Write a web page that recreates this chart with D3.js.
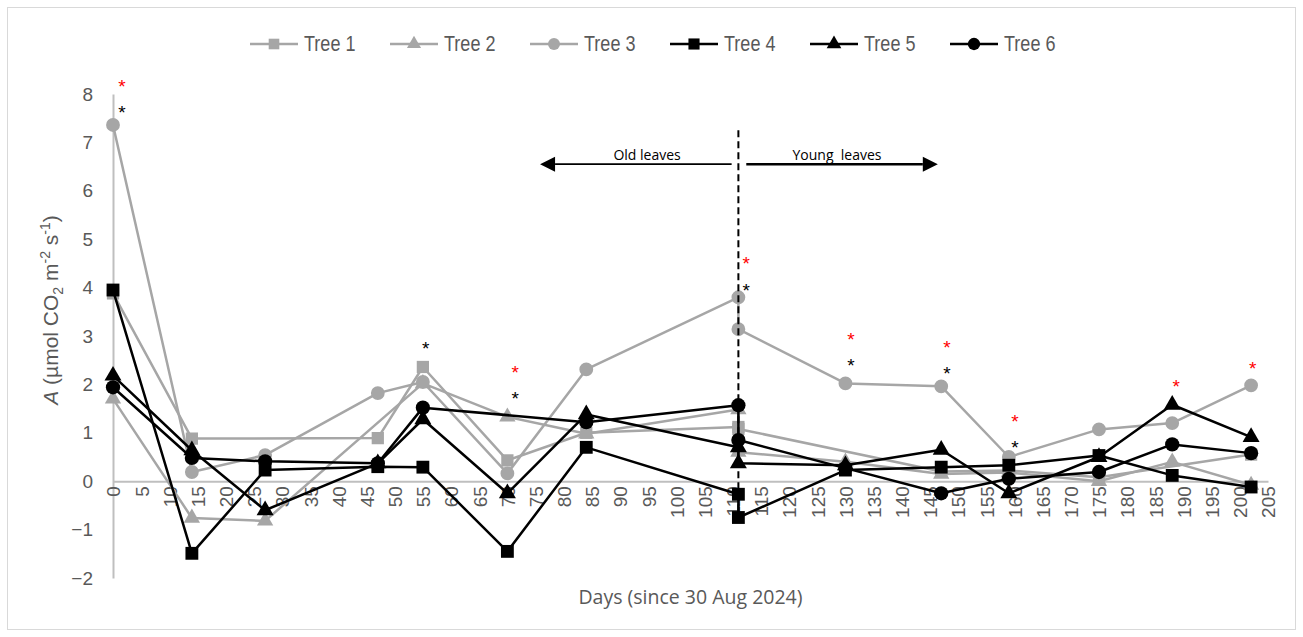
<!DOCTYPE html>
<html><head><meta charset="utf-8">
<script src="https://cdn.jsdelivr.net/npm/d3@7"></script>
<style>
body{margin:0;background:#fff;}
text{font-family:"Liberation Sans",Arial,sans-serif;}
</style>
</head><body>
<svg id="chart" width="1303" height="637"></svg>
<script>
// ---------- DATA ----------
// measurement days (day 111 appears twice: old leaves, then young leaves)
const days  = [0, 14, 27, 47, 55, 70, 84, 111, 111, 130, 147, 159, 175, 188, 202];
const tree1 = [3.88, 0.88, null, 0.89, 2.36, 0.43, 1.00, 1.12, 1.08, null, 0.20, 0.22, 0.08, null, 0.55];
const tree2 = [1.70, -0.76, -0.82, null, 2.02, 1.33, 0.98, 1.48, 0.60, 0.40, 0.15, 0.18, 0.00, 0.40, -0.08];
const tree3 = [7.36, 0.19, 0.54, 1.82, 2.05, 0.16, 2.31, 3.80, 3.14, 2.02, 1.96, 0.50, 1.07, 1.20, 1.98];
const tree4 = [3.95, -1.49, 0.23, 0.30, 0.29, -1.45, 0.70, -0.27, -0.75, 0.23, 0.29, 0.33, 0.53, 0.12, -0.12];
const tree5 = [2.18, 0.64, -0.60, 0.37, 1.28, -0.25, 1.38, 0.70, 0.37, 0.33, 0.65, -0.25, 0.50, 1.58, 0.91];
const tree6 = [1.94, 0.48, 0.41, 0.37, 1.52, null, 1.22, 1.57, 0.85, 0.27, -0.25, 0.05, 0.19, 0.76, 0.58];
const seriesNames = ["Tree 1", "Tree 2", "Tree 3", "Tree 4", "Tree 5", "Tree 6"];
const xTicks = d3.range(0, 206, 5);
const yTicks = d3.range(-2, 9, 1);
// significance asterisks (day, value)
const redStarDays   = [1.6, 71.4, 112.4, 131, 148, 160.1, 188.7, 202.3];
const redStarValues = [8.22, 2.31, 4.57, 3.00, 2.83, 1.30, 2.02, 2.40];
const blackStarDays   = [1.6, 55.5, 71.4, 112.4, 131, 148, 160.1];
const blackStarValues = [7.69, 2.81, 1.78, 4.01, 2.46, 2.29, 0.76];
// leaf phase annotation
const dividerDay = 111;
const dividerRange = [7.25, -0.85];
const oldArrowDays = [109.8, 75.8];
const youngArrowDays = [112.4, 146.4];
const arrowValue = 6.55;
const phaseLabels = ["Old leaves", "Young  leaves"];
const phaseLabelDays = [94.8, 128.5];
const phaseLabelValue = 6.63;

// ---------- LAYOUT ----------
const svg = d3.select("#chart");
const x = d3.scaleLinear().domain([0, 205]).range([113, 1268]);
const y = d3.scaleLinear().domain([-2, 8]).range([578, 94]);
const axisColor = "#bfbfbf", textColor = "#595959", grey = "#a6a6a6";

svg.append("rect").attr("x", 7.5).attr("y", 7.5).attr("width", 1288).attr("height", 622)
  .attr("fill", "#fff").attr("stroke", "#d9d9d9").attr("stroke-width", 1);

// Y axis
const yAxis = svg.append("g").attr("transform", `translate(${x(0)},0)`)
  .call(d3.axisLeft(y).tickValues(yTicks).tickSize(0).tickPadding(20).tickFormat(d3.format("d")));
yAxis.select(".domain").attr("stroke", axisColor).attr("stroke-width", 2);
yAxis.selectAll("text").attr("fill", textColor).style("font-size", "19px")
  .style("font-family", '"Liberation Sans",Arial,sans-serif');

// X axis at y = 0
const xAxis = svg.append("g").attr("transform", `translate(0,${y(0)})`)
  .call(d3.axisBottom(x).tickValues(xTicks).tickSize(0).tickSizeOuter(0));
xAxis.select(".domain").attr("stroke", axisColor).attr("stroke-width", 2);
xAxis.selectAll("text").attr("fill", textColor).style("font-size", "19px")
  .style("font-family", '"Liberation Sans",Arial,sans-serif')
  .attr("y", 0).attr("x", -5).attr("dy", "0.36em")
  .attr("transform", "rotate(-90)").style("text-anchor", "end");

// Axis titles
svg.append("text").attr("x", x(102.5)).attr("y", 604).attr("text-anchor", "middle")
  .attr("fill", textColor).style("font-family", '"Open Sans",sans-serif').style("font-size", "19.5px")
  .text("Days (since 30 Aug 2024)");

const yt = svg.append("text").attr("transform", "translate(58,310) rotate(-90)")
  .attr("text-anchor", "middle").attr("fill", textColor).style("font-size", "21px");
yt.append("tspan").style("font-style", "italic").text("A");
yt.append("tspan").text(" (µmol CO");
yt.append("tspan").attr("dy", 5).style("font-size", "14px").text("2");
yt.append("tspan").attr("dy", -5).text(" m");
yt.append("tspan").attr("dy", -8).style("font-size", "14px").text("-2");
yt.append("tspan").attr("dy", 8).text(" s");
yt.append("tspan").attr("dy", -8).style("font-size", "14px").text("-1");
yt.append("tspan").attr("dy", 8).text(")");

// Series
const allValues = [tree1, tree2, tree3, tree4, tree5, tree6];
const styles = [
  {color: grey, sym: d3.symbolSquare, size: 150},
  {color: grey, sym: d3.symbolTriangle, size: 115},
  {color: grey, sym: d3.symbolCircle, size: 150},
  {color: "#000", sym: d3.symbolSquare, size: 165},
  {color: "#000", sym: d3.symbolTriangle, size: 125},
  {color: "#000", sym: d3.symbolCircle, size: 160}
];
const line = d3.line().x(d => x(d.day)).y(d => y(d.v));
allValues.forEach((vals, i) => {
  const pts = days.map((d, j) => ({day: d, v: vals[j]})).filter(p => p.v !== null);
  const g = svg.append("g");
  g.append("path").datum(pts).attr("d", line).attr("fill", "none")
    .attr("stroke", styles[i].color).attr("stroke-width", 2.5).attr("stroke-linejoin", "round");
  g.selectAll("path.m").data(pts).join("path").attr("class", "m")
    .attr("transform", p => `translate(${x(p.day)},${y(p.v)})`)
    .attr("d", d3.symbol().type(styles[i].sym).size(styles[i].size))
    .attr("fill", styles[i].color);
});

// Divider dashed line
svg.append("line").attr("x1", x(dividerDay)).attr("x2", x(dividerDay))
  .attr("y1", y(dividerRange[0])).attr("y2", y(dividerRange[1]))
  .attr("stroke", "#000").attr("stroke-width", 2).attr("stroke-dasharray", "7,4");

// Arrows
function arrow(d0, d1, w) {
  const x0 = x(d0), x1 = x(d1), yy = y(arrowValue);
  const dir = Math.sign(x1 - x0), L = 15, H = 7.5;
  svg.append("line").attr("x1", x0).attr("x2", x1 - dir * L).attr("y1", yy).attr("y2", yy)
    .attr("stroke", "#000").attr("stroke-width", w);
  svg.append("path").attr("d", `M${x1},${yy} L${x1 - dir * L},${yy - H} L${x1 - dir * L},${yy + H} Z`)
    .attr("fill", "#000");
}
arrow(oldArrowDays[0], oldArrowDays[1], 1.8);
arrow(youngArrowDays[0], youngArrowDays[1], 2.5);
phaseLabels.forEach((t, i) => {
  svg.append("text").attr("x", x(phaseLabelDays[i])).attr("y", y(phaseLabelValue))
    .attr("text-anchor", "middle").style("white-space", "pre")
    .style("font-family", '"Open Sans",sans-serif').style("font-size", "14px")
    .attr("fill", "#000").text(t);
});

// Asterisks
function stars(ds, vs, color) {
  ds.forEach((d, i) => {
    svg.append("text").attr("x", x(d)).attr("y", y(vs[i]) + 10).attr("text-anchor", "middle")
      .attr("fill", color).style("font-size", "19px").text("*");
  });
}
stars(redStarDays, redStarValues, "#ff0000");
stars(blackStarDays, blackStarValues, "#000");

// Legend
const legend = svg.append("g");
seriesNames.forEach((name, i) => {
  const lx = 250 + i * 140, ly = 44;
  legend.append("line").attr("x1", lx).attr("x2", lx + 48).attr("y1", ly).attr("y2", ly)
    .attr("stroke", styles[i].color).attr("stroke-width", 2.5);
  legend.append("path").attr("transform", `translate(${lx + 24},${ly})`)
    .attr("d", d3.symbol().type(styles[i].sym).size(styles[i].size * 0.75)).attr("fill", styles[i].color);
  legend.append("text").attr("transform", `translate(${lx + 54},${ly + 7}) scale(0.82,1)`)
    .attr("fill", textColor).style("font-size", "22px").text(name);
});
</script>
</body></html>
